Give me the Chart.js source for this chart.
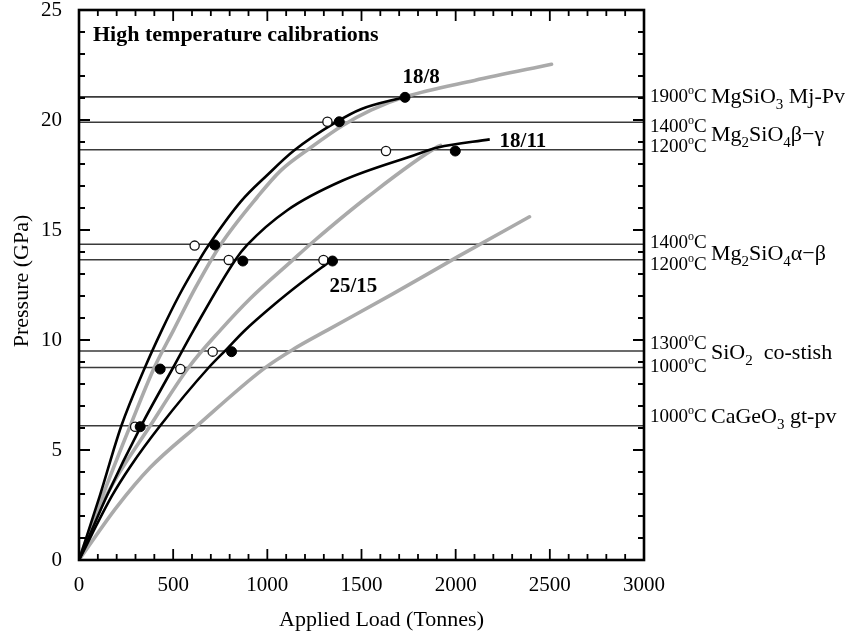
<!DOCTYPE html>
<html><head><meta charset="utf-8">
<script src="https://cdn.jsdelivr.net/npm/chart.js@4/dist/chart.umd.min.js"></script>
<style>html,body{margin:0;padding:0;background:#fff}#wrap{width:848px;height:637px}</style>
</head><body><div id="wrap"><canvas id="c" width="848" height="637"></canvas></div>
<script>
// ---- tick labels ----
const xTicks = [0, 500, 1000, 1500, 2000, 2500, 3000];
const yTicks = [0, 5, 10, 15, 20, 25];
const xMinorStep = 100;
const yMinorStep = 1;

// ---- calibration curves (load in tonnes, pressure in GPa) ----
const curve18_8 = [[0,0],[110,2.9],[225,6.1],[350,8.75],[440,10.45],[530,12.0],[640,13.65],[680,14.2],[860,16.3],[1000,17.5],[1140,18.6],[1365,19.9],[1500,20.5],[1731,21.05]];
const curve18_11 = [[0,0],[147,2.9],[330,6.1],[500,8.75],[609,10.45],[831,13.65],[893,14.32],[1106,15.9],[1400,17.25],[1780,18.4],[1905,18.75],[2181,19.12]];
const curve25_15 = [[0,0],[174,2.9],[272,4.24],[431,6.1],[689,8.75],[786,9.6],[876,10.4],[1035,11.6],[1180,12.6],[1340,13.62]];
const grayA = [[0,0],[138,3.2],[272,6.1],[400,8.75],[502,10.45],[620,12.4],[751,14.32],[947,16.5],[1071,17.7],[1231,18.75],[1400,19.75],[1550,20.45],[1731,21.05],[2100,21.8],[2509,22.53]];
const grayB = [[0,0],[150,3.0],[378,6.1],[582,8.75],[751,10.45],[911,11.9],[1130,13.6],[1248,14.5],[1532,16.5],[1907,18.8],[1920,18.85]];
const grayC = [[0,0],[200,2.4],[378,4.2],[627,6.1],[982,8.7],[1142,9.6],[1319,10.45],[1657,12.05],[2014,13.8],[2392,15.6]];

// ---- calibration points ----
const filledPts = [[325,6.06],[431,8.68],[810,9.47],[721,14.32],[870,13.59],[1346,13.59],[1382,19.92],[1731,21.03],[1998,18.59]];
const openPts = [[298,6.06],[538,8.68],[710,9.47],[614,14.29],[795,13.64],[1298,13.64],[1319,19.92],[1630,18.59]];

// ---- phase transition pressures (GPa) ----
const transitionP = [21.05, 19.9, 18.65, 14.35, 13.65, 9.5, 8.75, 6.1];

// ---- text ----
const titleText = 'High temperature calibrations';
const curveLabels = [['18/8',1817,21.95],['18/11',2357,19.01],['25/15',1457,12.45]];
const tempLabels = [['1900',21.05],['1400',19.68],['1200',18.77],['1400',14.41],['1200',13.41],['1300',9.82],['1000',8.77],['1000',6.5]];
const phaseLabels = [
  [[['MgSiO'],['3','sub'],[' Mj-Pv']], 21.05],
  [[['Mg'],['2','sub'],['SiO'],['4','sub'],['\u03b2\u2212\u03b3']], 19.32],
  [[['Mg'],['2','sub'],['SiO'],['4','sub'],['\u03b1\u2212\u03b2']], 13.91],
  [[['SiO'],['2','sub'],['  co-stish']], 9.41],
  [[['CaGeO'],['3','sub'],[' gt-pv']], 6.5]
];
const xTitle = 'Applied Load (Tonnes)';
const yTitle = 'Pressure (GPa)';

const FONT = '"Liberation Serif","Times New Roman",serif';
const toXY = a => a.map(p => ({x:p[0], y:p[1]}));

const datasets = [];
datasets.push({data: toXY(filledPts), showLine:false, pointRadius:5, pointBackgroundColor:'#000', pointBorderColor:'#000', pointBorderWidth:1});
datasets.push({data: toXY(openPts), showLine:false, pointRadius:4.6, pointBackgroundColor:'#fff', pointBorderColor:'#111', pointBorderWidth:1.3});
[curve18_8, curve18_11, curve25_15].forEach(c => datasets.push({data: toXY(c), borderColor:'#000', borderWidth:2.6, pointRadius:0, cubicInterpolationMode:'monotone', fill:false}));
[grayA, grayB, grayC].forEach(c => datasets.push({data: toXY(c), borderColor:'#aaaaaa', borderWidth:3.6, pointRadius:0, cubicInterpolationMode:'monotone', fill:false, borderCapStyle:'round'}));
transitionP.forEach(p => datasets.push({data: [{x:0,y:p},{x:3000,y:p}], borderColor:'#3a3a3a', borderWidth:1.6, pointRadius:0, fill:false}));

function rich(ctx, x, yc, parts, size) {
  let cx = x;
  ctx.textAlign = 'left';
  ctx.textBaseline = 'middle';
  for (const p of parts) {
    let fs = size, dy = 0;
    if (p[1] === 'sub') { fs = Math.round(size * 0.66); dy = size * 0.38; }
    if (p[1] === 'sup') { fs = Math.round(size * 0.62); dy = -size * 0.33; }
    ctx.font = fs + 'px ' + FONT;
    ctx.fillText(p[0], cx, yc + dy);
    cx += ctx.measureText(p[0]).width;
  }
}

const deco = {
  id: 'deco',
  afterDatasetsDraw(chart) {
    const ctx = chart.ctx, a = chart.chartArea, xs = chart.scales.x, ys = chart.scales.y;
    ctx.save();
    // inward ticks
    ctx.strokeStyle = '#000'; ctx.lineWidth = 1.8;
    ctx.beginPath();
    for (let v = xs.min; v <= xs.max + 1e-9; v += xMinorStep) {
      const px = xs.getPixelForValue(v);
      const len = xTicks.includes(v) ? 11 : 6;
      ctx.moveTo(px, a.bottom); ctx.lineTo(px, a.bottom - len);
      ctx.moveTo(px, a.top); ctx.lineTo(px, a.top + len);
    }
    for (let v = ys.min; v <= ys.max + 1e-9; v += yMinorStep) {
      const py = ys.getPixelForValue(v);
      const len = yTicks.includes(v) ? 11 : 6;
      ctx.moveTo(a.left, py); ctx.lineTo(a.left + len, py);
      ctx.moveTo(a.right, py); ctx.lineTo(a.right - len, py);
    }
    ctx.stroke();
    // frame
    ctx.lineWidth = 2.6;
    ctx.strokeRect(a.left, a.top, a.right - a.left, a.bottom - a.top);
    ctx.fillStyle = '#000';
    // title
    ctx.font = 'bold 22px ' + FONT;
    ctx.textAlign = 'left'; ctx.textBaseline = 'middle';
    ctx.fillText(titleText, a.left + 14, a.top + 25);
    // curve labels
    ctx.font = 'bold 21px ' + FONT;
    ctx.textAlign = 'center';
    curveLabels.forEach(l => ctx.fillText(l[0], xs.getPixelForValue(l[1]), ys.getPixelForValue(l[2])));
    // right-hand labels
    tempLabels.forEach(t => rich(ctx, a.right + 6, ys.getPixelForValue(t[1]), [[t[0]],['o','sup'],['C']], 19));
    phaseLabels.forEach(p => rich(ctx, a.right + 67, ys.getPixelForValue(p[1]), p[0], 22));
    // axis titles
    ctx.font = '22px ' + FONT;
    ctx.textAlign = 'center'; ctx.textBaseline = 'middle';
    ctx.fillText(xTitle, (a.left + a.right) / 2 + 20, 620);
    ctx.save();
    ctx.translate(22, (a.top + a.bottom) / 2 - 4);
    ctx.rotate(-Math.PI / 2);
    ctx.fillText(yTitle, 0, 0);
    ctx.restore();
    ctx.restore();
  }
};

new Chart(document.getElementById('c'), {
  type: 'line',
  data: { datasets },
  options: {
    responsive: false, animation: false, devicePixelRatio: 1,
    layout: { padding: { left: 0, right: 204, top: 10, bottom: 0 } },
    plugins: { legend: { display: false }, tooltip: { enabled: false } },
    elements: { line: { tension: 0 } },
    scales: {
      x: {
        type: 'linear', min: 0, max: 3000,
        afterBuildTicks: s => { s.ticks = xTicks.map(v => ({ value: v })); },
        afterFit: s => { s.height = 77; s.paddingLeft = 0; s.paddingRight = 0; },
        ticks: { font: { family: FONT, size: 21 }, color: '#000', padding: 13, maxRotation: 0, autoSkip: false, callback: v => String(v) },
        grid: { display: false, drawTicks: false }, border: { display: false }
      },
      y: {
        type: 'linear', min: 0, max: 25,
        afterBuildTicks: s => { s.ticks = yTicks.map(v => ({ value: v })); },
        afterFit: s => { s.width = 79; s.paddingTop = 0; s.paddingBottom = 0; },
        ticks: { font: { family: FONT, size: 21 }, color: '#000', padding: 17, autoSkip: false, callback: v => String(v) },
        grid: { display: false, drawTicks: false }, border: { display: false }
      }
    }
  },
  plugins: [deco]
});
</script>
</body></html>
